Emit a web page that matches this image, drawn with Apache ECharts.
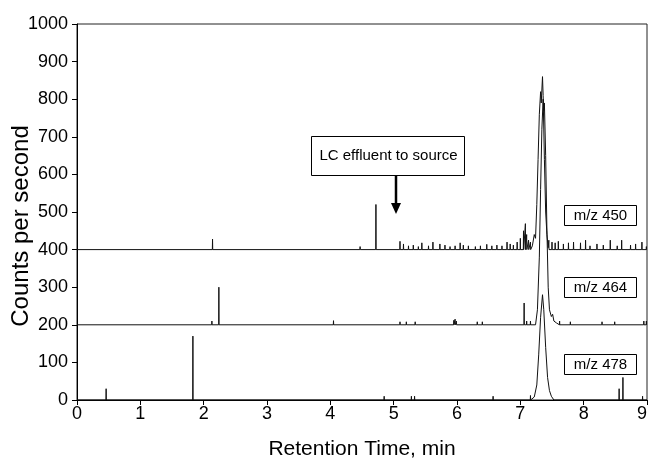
<!DOCTYPE html>
<html><head><meta charset="utf-8">
<script src="https://cdn.jsdelivr.net/npm/echarts@6/dist/echarts.min.js"></script>
<style>html,body{margin:0;padding:0;background:#fff}#c{width:650px;height:459px}</style>
</head><body><div id="c"></div>
<script>
// ---- Data (retention time in min, counts per second as plotted with offsets) ----
const traceNames = ['m/z 450', 'm/z 464', 'm/z 478'];
const baselines = [400, 200, 0];

const spikes450 = [[2.14, 428], [4.47, 408], [4.72, 520],
  [5.10, 422], [5.155, 415], [5.234, 410], [5.31, 412], [5.39, 408], [5.445, 418], [5.55, 410],
  [5.62, 420], [5.73, 415], [5.81, 412], [5.89, 408], [5.97, 410], [6.05, 418], [6.10, 412],
  [6.18, 410], [6.29, 408], [6.37, 410], [6.47, 414], [6.55, 410], [6.63, 412], [6.71, 410],
  [6.79, 420], [6.84, 415], [6.89, 412], [6.95, 420], [7.00, 430], [7.05, 450], [7.08, 469],
  [7.10, 440], [7.13, 425], [7.16, 420],
  [7.45, 425], [7.50, 420], [7.55, 418], [7.60, 422], [7.68, 415], [7.76, 418], [7.84, 420],
  [7.95, 418], [8.03, 425], [8.10, 410], [8.21, 415], [8.31, 412], [8.42, 425], [8.53, 410],
  [8.60, 425], [8.74, 412], [8.82, 415], [8.92, 420], [8.99, 408]];
const peak450 = [[7.19, 410], [7.22, 440], [7.24, 430], [7.26, 520], [7.28, 640], [7.30, 760],
  [7.32, 820], [7.33, 790], [7.35, 860], [7.36, 810], [7.38, 640], [7.40, 500], [7.42, 440], [7.44, 405]];

const spikes464 = [[2.13, 210], [2.24, 300], [4.05, 211],
  [5.10, 208], [5.20, 208], [5.34, 208], [5.95, 212], [5.97, 215], [5.99, 210],
  [6.32, 208], [6.40, 208], [7.06, 258], [7.10, 210], [7.16, 210],
  [7.62, 210], [7.79, 208], [8.29, 208], [8.49, 208], [8.95, 210], [8.99, 210]];
const peak464 = [[7.24, 200], [7.27, 240], [7.30, 380], [7.32, 560], [7.34, 720], [7.36, 800],
  [7.37, 770], [7.38, 790], [7.40, 650], [7.42, 450], [7.44, 300], [7.46, 240], [7.47, 235],
  [7.49, 222], [7.51, 228], [7.53, 210], [7.55, 215], [7.57, 205], [7.59, 200]];

const spikes478 = [[0.46, 30], [1.83, 170], [4.85, 10], [5.28, 10], [5.33, 10], [6.57, 10],
  [7.16, 12], [8.56, 30], [8.62, 60], [8.93, 10]];
const peak478 = [[7.19, 0], [7.22, 8], [7.26, 40], [7.29, 120], [7.32, 220], [7.35, 280],
  [7.37, 240], [7.40, 140], [7.43, 60], [7.46, 25], [7.49, 10], [7.51, 8], [7.53, 0]];

const xTickValues = [0, 1, 2, 3, 4, 5, 6, 7, 8, 9];
const yTickValues = [0, 100, 200, 300, 400, 500, 600, 700, 800, 900, 1000];
const xAxisTitle = 'Retention Time, min';
const yAxisTitle = 'Counts per second';
const annotationText = 'LC effluent to source';

// ---- Build line data ----
function buildTrace(base, spikes, peak) {
  const pts = [[0, base]];
  spikes.forEach(([t, v]) => { pts.push([t - 0.003, base], [t, v], [t + 0.003, base]); });
  peak.forEach(p => pts.push(p));
  pts.push([9, base]);
  pts.sort((a, b) => a[0] - b[0]);
  return pts;
}
const traces = [
  buildTrace(baselines[0], spikes450, peak450),
  buildTrace(baselines[1], spikes464, peak464),
  buildTrace(baselines[2], spikes478, peak478)
];

const FONT = 'Liberation Sans, Arial, Helvetica, sans-serif';
const chart = echarts.init(document.getElementById('c'), null, { renderer: 'canvas' });

const labelBoxes = [
  { name: traceNames[0], y: 205 },
  { name: traceNames[1], y: 277 },
  { name: traceNames[2], y: 354 }
];
const graphics = [];
labelBoxes.forEach(b => {
  graphics.push({ type: 'rect', shape: { x: 564.5, y: b.y + 0.5, width: 72, height: 20 },
    style: { fill: '#fff', stroke: '#000', lineWidth: 1 }, z: 100 });
  graphics.push({ type: 'text', x: 600.5, y: b.y + 10.5, style: { text: b.name, fill: '#000',
    font: '15px ' + FONT, textAlign: 'center', textVerticalAlign: 'middle' }, z: 101 });
});
graphics.push({ type: 'rect', shape: { x: 311.5, y: 136.5, width: 153, height: 39 },
  style: { fill: '#fff', stroke: '#000', lineWidth: 1 }, z: 100 });
graphics.push({ type: 'text', x: 388.5, y: 156, style: { text: annotationText, fill: '#000',
  font: '15px ' + FONT, textAlign: 'center', textVerticalAlign: 'middle' }, z: 101 });
graphics.push({ type: 'line', shape: { x1: 396, y1: 176, x2: 396, y2: 206 },
  style: { stroke: '#000', lineWidth: 2.5 }, z: 101 });
graphics.push({ type: 'polygon', shape: { points: [[391, 203], [401, 203], [396, 214]] },
  style: { fill: '#000' }, z: 101 });
graphics.push({ type: 'text', x: 21, y: 226, rotation: Math.PI / 2,
  style: { text: yAxisTitle, fill: '#000', font: '24px ' + FONT,
    textAlign: 'center', textVerticalAlign: 'middle' } });
graphics.push({ type: 'text', x: 362, y: 449,
  style: { text: xAxisTitle, fill: '#000', font: '21px ' + FONT,
    textAlign: 'center', textVerticalAlign: 'middle' } });

chart.setOption({
  animation: false,
  backgroundColor: '#fff',
  grid: { left: 77, right: 3, top: 24, bottom: 59, containLabel: false, outerBoundsMode: 'none',
    show: true, borderColor: '#222', borderWidth: 1, backgroundColor: 'transparent' },
  xAxis: {
    type: 'value', min: 0, max: 9, interval: 1,
    axisLine: { show: true, lineStyle: { color: '#000', width: 1 } },
    axisTick: { show: true, inside: false, length: 5, lineStyle: { color: '#000' } },
    axisLabel: { fontSize: 18, fontFamily: FONT, color: '#000', margin: 5, alignMaxLabel: 'right',
      formatter: v => xTickValues.includes(v) ? String(v) : '' },
    splitLine: { show: false }
  },
  yAxis: {
    type: 'value', min: 0, max: 1000, interval: 100,
    axisLine: { show: true, lineStyle: { color: '#000', width: 1 } },
    axisTick: { show: true, inside: false, length: 5, lineStyle: { color: '#000' } },
    axisLabel: { fontSize: 18, fontFamily: FONT, color: '#000', margin: 9,
      formatter: v => yTickValues.includes(v) ? String(v) : '' },
    splitLine: { show: false }
  },
  series: traces.map((d, i) => ({
    name: traceNames[i], type: 'line', data: d, showSymbol: false, symbol: 'none',
    lineStyle: { color: '#111', width: 1 }, silent: true, z: 3 + i
  })),
  graphic: graphics
});
</script></body></html>
